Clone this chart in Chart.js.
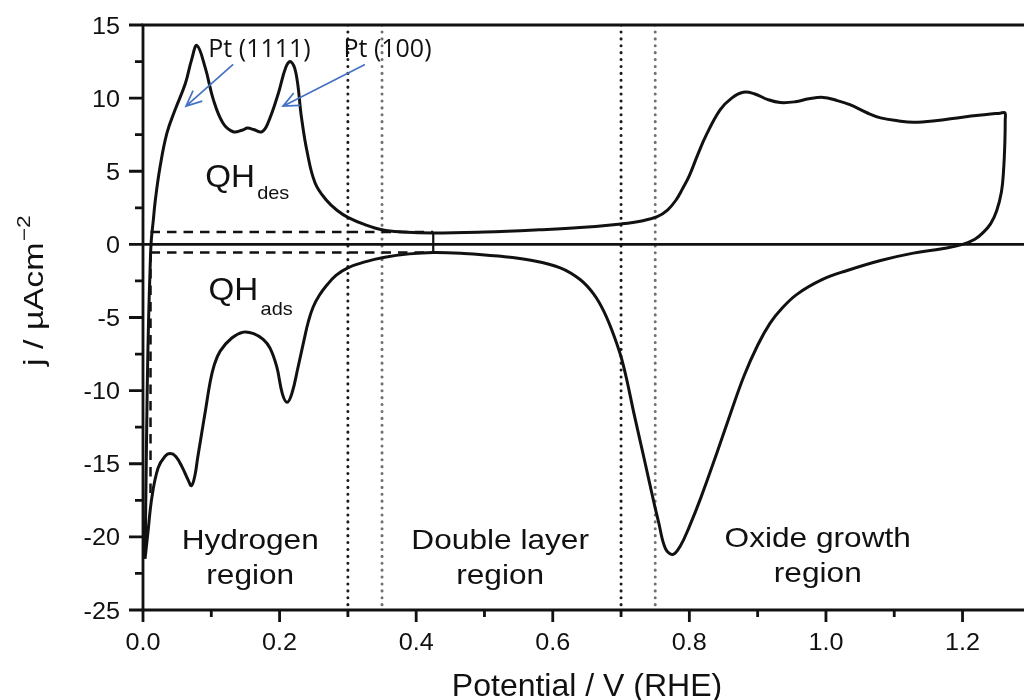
<!DOCTYPE html>
<html lang="en">
  <head>
    <meta charset="UTF-8" />
    <title>Pt cyclic voltammogram</title>
    <script src="https://cdn.jsdelivr.net/npm/chart.js"></script>
    <style>
      html,
      body {
        margin: 0;
        padding: 0;
        background: #fff;
      }
      .chart-box {
        position: relative;
        width: 1024px;
        height: 700px;
      }
    </style>
  </head>
  <body>
    <div class="chart-box"><canvas id="cvChart"></canvas></div>

    <script>
      // anodic sweep: hydrogen desorption, double layer, oxide growth (V vs RHE, µA/cm2)
      var anodicE = [
        0.003, 0.0045, 0.006, 0.008, 0.0105, 0.012, 0.015, 0.018, 0.025, 0.035,
        0.047, 0.062, 0.071, 0.079, 0.091, 0.103, 0.117, 0.132, 0.145, 0.153,
        0.162, 0.174, 0.183, 0.198, 0.209, 0.216, 0.224, 0.232, 0.24, 0.252,
        0.269, 0.285, 0.3, 0.325, 0.35, 0.38, 0.425, 0.5, 0.58, 0.64, 0.7, 0.73,
        0.753, 0.768, 0.78, 0.79, 0.8, 0.812, 0.825, 0.845, 0.862, 0.879, 0.895,
        0.915, 0.933, 0.955, 0.975, 0.996, 1.015, 1.035, 1.06, 1.08, 1.105,
        1.128, 1.16, 1.2, 1.235, 1.255, 1.262,
      ];
      var anodicJ = [
        -21.5, -16, -10.5, -5.5, -1.5, 0.2, 1.6, 3.0, 5.3, 7.6, 9.2, 11.0, 12.6,
        13.6, 12.1, 9.9, 8.3, 7.7, 7.8, 7.95, 7.85, 7.7, 8.3, 10.3, 12.1, 12.5,
        11.7, 8.7, 6.4, 4.2, 3.0, 2.3, 1.85, 1.35, 1.0, 0.85, 0.78, 0.85, 1.0,
        1.15, 1.4, 1.6, 1.9, 2.35, 3.0, 3.8, 4.7, 6.1, 7.5, 9.2, 10.0, 10.4,
        10.3, 9.9, 9.7, 9.75, 9.95, 10.05, 9.85, 9.55, 9.0, 8.65, 8.45, 8.35,
        8.45, 8.7, 8.88, 8.97, 9.0,
      ];

      // cathodic sweep: oxide reduction, then hydrogen adsorption
      var cathodicE = [
        1.2625, 1.262, 1.26, 1.257, 1.25, 1.241, 1.23, 1.218, 1.2, 1.17, 1.128,
        1.08, 1.03, 0.995, 0.958, 0.935, 0.918, 0.9, 0.88, 0.86, 0.84, 0.817,
        0.8, 0.787, 0.776, 0.765, 0.755, 0.745, 0.735, 0.72, 0.703, 0.69, 0.675,
        0.66, 0.64, 0.611, 0.57, 0.52, 0.47, 0.425, 0.39, 0.352, 0.325, 0.3,
        0.283, 0.269, 0.258, 0.249, 0.242, 0.236, 0.227, 0.218, 0.211, 0.204,
        0.196, 0.186, 0.176, 0.162, 0.147, 0.13, 0.113, 0.104, 0.098, 0.092,
        0.086, 0.08, 0.076, 0.071, 0.066, 0.057, 0.048, 0.04, 0.032, 0.022,
        0.013, 0.007, 0.003,
      ];
      var cathodicJ = [
        8.5, 7.0, 5.0, 3.6, 2.3, 1.4, 0.8, 0.35, 0, -0.3, -0.6, -1.1, -1.8,
        -2.4, -3.4, -4.4, -5.4, -6.9, -9.0, -11.6, -14.3, -17.3, -19.3, -20.6,
        -21.2, -20.8, -19.0, -17.0, -14.9, -11.8, -8.2, -6.3, -4.6, -3.4, -2.4,
        -1.6, -1.1, -0.8, -0.62, -0.55, -0.65, -0.9, -1.2, -1.6, -2.1, -2.8,
        -3.5, -4.3, -5.3, -6.5, -8.4, -10.2, -10.8, -10.2, -8.4, -7.1, -6.5,
        -6.1, -6.0, -6.4, -7.3, -8.3, -9.5, -11.2, -12.9, -14.6, -15.8, -16.5,
        -16.1, -15.2, -14.5, -14.3, -14.5, -15.3, -17.3, -19.8, -21.5,
      ];

      // region borders and charge integration limits
      var regionBounds = [0.3, 0.35, 0.7, 0.75];
      var qhDes = 0.85; // upper baseline for H desorption charge
      var qhAds = -0.55; // lower baseline for H adsorption charge
      var qhEnd = 0.425;
      var qhStart = 0.011;
      var qhFoot = -17.5;

      var xTickValues = [0, 0.2, 0.4, 0.6, 0.8, 1.0, 1.2];
      var xTickLabels = ["0.0", "0.2", "0.4", "0.6", "0.8", "1.0", "1.2"];
      var xMinorValues = [0.1, 0.3, 0.5, 0.7, 0.9, 1.1];
      var yTickValues = [-25, -20, -15, -10, -5, 0, 5, 10, 15];
      var yTickLabels = ["-25", "-20", "-15", "-10", "-5", "0", "5", "10", "15"];
      var yMinorValues = [-22.5, -17.5, -12.5, -7.5, -2.5, 2.5, 7.5, 12.5];

      var SANS = '"Liberation Sans", Arial, sans-serif';
      var INK = "#111";

      function toPoints(es, js) {
        return es.map(function (e, i) {
          return { x: e, y: js[i] };
        });
      }

      var loop = toPoints(anodicE, anodicJ).concat(toPoints(cathodicE, cathodicJ));

      function segment(data, dash, color, width, order, cap) {
        return {
          data: data,
          showLine: true,
          borderColor: color,
          borderWidth: width,
          borderDash: dash,
          borderCapStyle: cap || "butt",
          pointRadius: 0,
          tension: 0,
          order: order,
        };
      }

      var datasets = [
        {
          label: "CV",
          data: loop,
          showLine: true,
          borderColor: INK,
          borderWidth: 3,
          pointRadius: 0,
          tension: 0.4,
          order: 0,
        },
        segment([{ x: 0, y: 0 }, { x: 1.29, y: 0 }], [], INK, 2.8, 1),
        segment([{ x: qhStart, y: qhDes }, { x: qhEnd, y: qhDes }], [9.5, 7], INK, 2.5, 2),
        segment([{ x: qhStart, y: qhAds }, { x: qhEnd, y: qhAds }], [9.5, 7], INK, 2.5, 2),
        segment([{ x: qhStart, y: qhAds }, { x: qhStart, y: qhFoot }], [9.5, 7], INK, 2.5, 2),
        segment([{ x: qhEnd, y: qhDes }, { x: qhEnd, y: qhAds }], [], INK, 2.2, 2),
      ];
      regionBounds.forEach(function (v, i) {
        var col = i % 2 === 0 ? "#1a1a1a" : "#707070";
        datasets.push(
          segment([{ x: v, y: 15 }, { x: v, y: -25 }], [0.1, 6.8], col, 3, 3, "round")
        );
      });

      // stretched text helper, the labels of this figure run a bit wide
      function text(ctx, str, x, y, size, align, sx) {
        ctx.save();
        ctx.translate(x, y);
        ctx.scale(sx || 1, 1);
        ctx.font = size + "px " + SANS;
        ctx.textAlign = align || "center";
        ctx.textBaseline = "alphabetic";
        ctx.fillStyle = INK;
        ctx.fillText(str, 0, 0);
        ctx.restore();
      }

      function arrow(ctx, x0, y0, x1, y1) {
        var a = Math.atan2(y1 - y0, x1 - x0);
        var h = 17;
        ctx.save();
        ctx.strokeStyle = "#4472c4";
        ctx.lineWidth = 1.7;
        ctx.beginPath();
        ctx.moveTo(x0, y0);
        ctx.lineTo(x1, y1);
        ctx.moveTo(x1 - h * Math.cos(a - 0.42), y1 - h * Math.sin(a - 0.42));
        ctx.lineTo(x1, y1);
        ctx.lineTo(x1 - h * Math.cos(a + 0.42), y1 - h * Math.sin(a + 0.42));
        ctx.stroke();
        ctx.restore();
      }

      var framePlugin = {
        id: "frame",
        afterDraw: function (chart) {
          var ctx = chart.ctx;
          var ca = chart.chartArea;
          var sx = chart.scales.x;
          var sy = chart.scales.y;

          ctx.save();
          ctx.strokeStyle = INK;
          ctx.lineWidth = 2.8;
          ctx.beginPath();
          ctx.moveTo(ca.right + 2, ca.top);
          ctx.lineTo(ca.left, ca.top);
          ctx.lineTo(ca.left, ca.bottom);
          ctx.lineTo(ca.right + 2, ca.bottom);
          ctx.stroke();

          // tick marks point outward
          ctx.beginPath();
          xTickValues.forEach(function (v) {
            var p = sx.getPixelForValue(v);
            ctx.moveTo(p, ca.bottom);
            ctx.lineTo(p, ca.bottom + 12);
          });
          xMinorValues.forEach(function (v) {
            var p = sx.getPixelForValue(v);
            ctx.moveTo(p, ca.bottom);
            ctx.lineTo(p, ca.bottom + 7);
          });
          yTickValues.forEach(function (v) {
            var p = sy.getPixelForValue(v);
            ctx.moveTo(ca.left, p);
            ctx.lineTo(ca.left - 14, p);
          });
          yMinorValues.forEach(function (v) {
            var p = sy.getPixelForValue(v);
            ctx.moveTo(ca.left, p);
            ctx.lineTo(ca.left - 8, p);
          });
          ctx.stroke();
          ctx.restore();

          xTickValues.forEach(function (v, i) {
            text(ctx, xTickLabels[i], sx.getPixelForValue(v), ca.bottom + 40, 24, "center", 1.05);
          });
          yTickValues.forEach(function (v, i) {
            text(ctx, yTickLabels[i], ca.left - 23, sy.getPixelForValue(v) + 8.5, 24, "right", 1.05);
          });

          // axis titles
          text(ctx, "Potential / V (RHE)", 587, 696, 32, "center", 1);
          ctx.save();
          ctx.translate(43, 366);
          ctx.rotate(-Math.PI / 2);
          ctx.scale(1.26, 1);
          ctx.font = "27px " + SANS;
          ctx.fillStyle = INK;
          ctx.textAlign = "left";
          ctx.fillText("j / µAcm", 0, 0);
          var w = ctx.measureText("j / µAcm").width;
          ctx.font = "18px " + SANS;
          ctx.fillText("\u22122", w + 1, -13);
          ctx.restore();

          // charge labels
          var qx = sx.getPixelForValue(0.091);
          var qy = sy.getPixelForValue(3.9);
          text(ctx, "QH", qx, qy, 31, "left", 1.07);
          text(ctx, "des", qx + 52, qy + 12, 19, "left", 1.05);
          qx = sx.getPixelForValue(0.096);
          qy = sy.getPixelForValue(-3.8);
          text(ctx, "QH", qx, qy, 31, "left", 1.07);
          text(ctx, "ads", qx + 52, qy + 15, 19, "left", 1.05);

          // region names
          var r1 = sy.getPixelForValue(-20.8);
          var r2 = sy.getPixelForValue(-23.2);
          text(ctx, "Hydrogen", sx.getPixelForValue(0.157), r1, 28, "center", 1.13);
          text(ctx, "region", sx.getPixelForValue(0.157), r2, 28, "center", 1.13);
          text(ctx, "Double layer", sx.getPixelForValue(0.523), r1, 28, "center", 1.13);
          text(ctx, "region", sx.getPixelForValue(0.523), r2, 28, "center", 1.13);
          text(ctx, "Oxide growth", sx.getPixelForValue(0.988), r1 - 2, 28, "center", 1.13);
          text(ctx, "region", sx.getPixelForValue(0.988), r2 - 2, 28, "center", 1.13);

          // facet peak callouts
          ctx.save();
          ctx.font = '25px "Open Sans", sans-serif';
          ctx.fillStyle = INK;
          ctx.textAlign = "center";
          var ty = sy.getPixelForValue(12.8);
          ctx.fillText("Pt (1111)", sx.getPixelForValue(0.1706), ty);
          ctx.fillText("Pt (100)", sx.getPixelForValue(0.358), ty);
          ctx.restore();
          arrow(
            ctx,
            sx.getPixelForValue(0.132), sy.getPixelForValue(12.3),
            sx.getPixelForValue(0.063), sy.getPixelForValue(9.45)
          );
          arrow(
            ctx,
            sx.getPixelForValue(0.325), sy.getPixelForValue(12.3),
            sx.getPixelForValue(0.205), sy.getPixelForValue(9.45)
          );
        },
      };

      new Chart(document.getElementById("cvChart"), {
        type: "scatter",
        data: { datasets: datasets },
        options: {
          responsive: true,
          maintainAspectRatio: false,
          animation: false,
          layout: { padding: { left: 143, top: 25, right: 0, bottom: 90 } },
          plugins: {
            legend: { display: false },
            tooltip: { enabled: false },
          },
          scales: {
            x: { type: "linear", display: false, min: 0, max: 1.29 },
            y: { type: "linear", display: false, min: -25, max: 15 },
          },
        },
        plugins: [framePlugin],
      });
    </script>
  </body>
</html>
